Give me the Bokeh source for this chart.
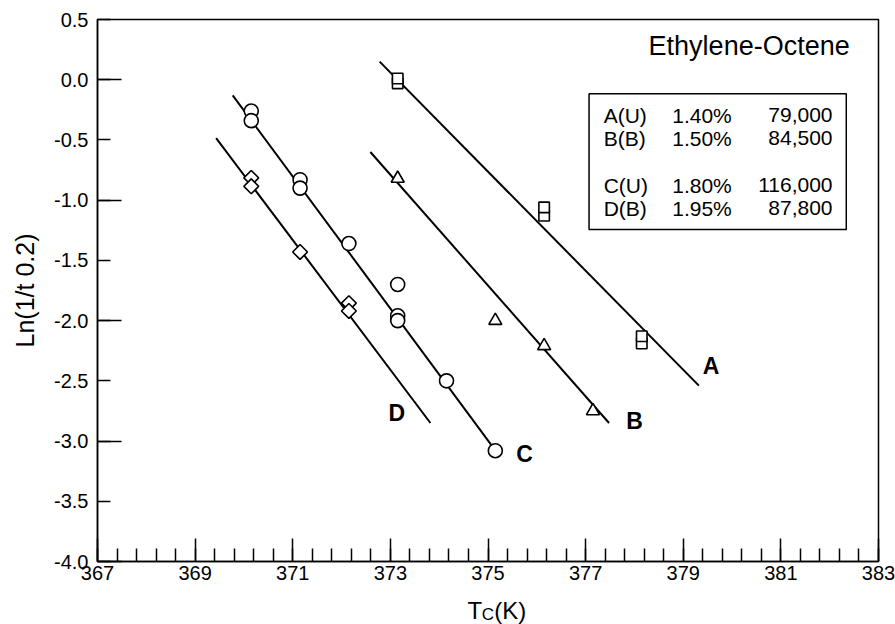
import numpy as np
from bokeh.plotting import figure
from bokeh.layouts import column
from bokeh.models import Range1d, FixedTicker, Label, BoxAnnotation, PrintfTickFormatter
from bokeh.core.properties import value
from bokeh.embed import file_html
from bokeh.resources import INLINE

FONT = "Liberation Sans"

# ---- data ----
# A(U) squares
A_x = [373.15, 373.15, 376.15, 376.15, 378.15, 378.15]
A_y = [-0.03, 0.01, -1.13, -1.06, -2.19, -2.13]
# B(B) triangles
B_x = [373.15, 375.15, 376.15, 377.15]
B_y = [-0.82, -2.00, -2.21, -2.75]
# C(U) circles
C_x = [370.15, 370.15, 371.15, 371.15, 372.15, 373.15, 373.15, 373.15, 374.15, 375.15]
C_y = [-0.26, -0.34, -0.83, -0.90, -1.36, -1.70, -1.96, -2.00, -2.50, -3.08]
# D(B) diamonds
D_x = [370.15, 370.15, 371.15, 372.15, 372.15]
D_y = [-0.815, -0.885, -1.43, -1.855, -1.92]

# fitted lines (end points)
fitA_x = [372.78, 379.32]
fitA_y = [0.15, -2.54]
fitB_x = [372.59, 377.48]
fitB_y = [-0.60, -2.85]
fitC_x = [369.77, 375.10]
fitC_y = [-0.13, -3.05]
fitD_x = [369.43, 373.82]
fitD_y = [-0.485, -2.85]

series_labels = ["A", "B", "C", "D"]
legend_names = ["A(U)", "B(B)", "C(U)", "D(B)"]
legend_pct = ["1.40%", "1.50%", "1.80%", "1.95%"]
legend_mw = ["79,000", "84,500", "116,000", "87,800"]
title_text = "Ethylene-Octene"
y_title = "Ln(1/t 0.2)"
x_title_parts = ["T", "C", "(K)"]

x_major_ticks = [367, 369, 371, 373, 375, 377, 379, 381, 383]
x_minor_ticks = [round(v, 1) for v in np.arange(367.0, 383.01, 0.4)]
y_label_ticks = [0.5, 0.0, -0.5, -1.0, -1.5, -2.0, -2.5, -3.0, -3.5, -4.0]
y_long_ticks = [0.0, -1.0, -2.0, -3.0, -4.0]

# ---- main figure ----
p = figure(width=895, height=596, x_range=Range1d(367, 383), y_range=Range1d(-4, 0.5),
           output_backend="svg", toolbar_location=None,
           min_border_left=97, min_border_right=17, min_border_top=19, min_border_bottom=35)
p.xgrid.visible = False
p.ygrid.visible = False
p.outline_line_color = "black"
p.outline_line_width = 1.5
p.background_fill_color = "white"
p.border_fill_color = "white"

xa = p.xaxis[0]
xa.ticker = FixedTicker(ticks=x_major_ticks, minor_ticks=x_minor_ticks)
xa.major_tick_in = 23
xa.major_tick_out = 0
xa.minor_tick_in = 13
xa.minor_tick_out = 0
xa.major_tick_line_width = 1.5
xa.minor_tick_line_width = 1.5
xa.axis_line_width = 1.5
xa.major_label_text_font = FONT
xa.major_label_text_font_size = "20px"
xa.major_label_text_color = "black"
xa.major_label_standoff = 4

ya = p.yaxis[0]
ya.ticker = FixedTicker(ticks=y_label_ticks, minor_ticks=y_long_ticks)
ya.formatter = PrintfTickFormatter(format="%.1f")
ya.major_tick_in = 13
ya.major_tick_out = 0
ya.minor_tick_in = 24
ya.minor_tick_out = 0
ya.major_tick_line_width = 1.5
ya.minor_tick_line_width = 1.5
ya.axis_line_width = 1.5
ya.major_label_text_font = FONT
ya.major_label_text_font_size = "20px"
ya.major_label_text_color = "black"
ya.major_label_standoff = 9
ya.axis_label = y_title
ya.axis_label_text_font = FONT
ya.axis_label_text_font_size = "25px"
ya.axis_label_text_font_style = "normal"
ya.axis_label_text_color = "black"
ya.axis_label_standoff = 12

# fitted lines
for fx, fy in [(fitA_x, fitA_y), (fitB_x, fitB_y), (fitC_x, fitC_y), (fitD_x, fitD_y)]:
    p.line(fx, fy, line_color="black", line_width=2)

mk = dict(fill_color="white", line_color="black", line_width=1.6)
p.scatter(A_x, A_y, marker="square", size=10.5, **mk)
p.scatter(B_x, B_y, marker="triangle", size=13, **mk)
p.scatter(C_x, C_y, marker="circle", size=14, **mk)
p.scatter(D_x, D_y, marker="square", angle=np.pi / 4, size=10.5, **mk)

# series labels
lab_pos = [(379.57, -2.373), (378.0, -2.833), (375.75, -3.108), (373.13, -2.771)]
for t, (lx, ly) in zip(series_labels, lab_pos):
    p.add_layout(Label(x=lx, y=ly, text=t, text_font=FONT, text_font_size="23px",
                       text_font_style="bold", text_align="center", text_baseline="middle",
                       text_color="black"))

# title
p.add_layout(Label(x=378.29, y=0.276, text=title_text, text_font=FONT, text_font_size="27px",
                   text_align="left", text_baseline="middle", text_color="black"))

# legend box
p.add_layout(BoxAnnotation(left=377.07, right=382.34, top=-0.117, bottom=-1.244,
                           fill_color="white", fill_alpha=1.0, line_color="black",
                           line_width=1.5, line_alpha=1.0))
row_y = [-0.297, -0.488, -0.878, -1.069]
for nm, pc, mw, ry in zip(legend_names, legend_pct, legend_mw, row_y):
    p.add_layout(Label(x=377.37, y=ry, text=nm, text_font=FONT, text_font_size="21px",
                       text_align="left", text_baseline="middle", text_color="black"))
    p.add_layout(Label(x=378.774, y=ry, text=pc, text_font=FONT, text_font_size="21px",
                       text_align="left", text_baseline="middle", text_color="black"))
    p.add_layout(Label(x=382.058, y=ry, text=mw, text_font=FONT, text_font_size="21px",
                       text_align="right", text_baseline="middle", text_color="black"))

# ---- strip below for the x-axis title (T with subscript C, then (K)) ----
q = figure(width=895, height=28, x_range=p.x_range, y_range=Range1d(0, 28),
           output_backend="svg", toolbar_location=None,
           x_axis_location=None, y_axis_location=None, min_border=0)
q.xgrid.visible = False
q.ygrid.visible = False
q.outline_line_color = None
q.background_fill_color = "white"
q.border_fill_color = "white"
q.text(x=[374.58], y=[14], text=[x_title_parts[0]], text_font=value(FONT), text_font_size="24px",
       text_align="left", text_baseline="alphabetic", text_color="black")
q.text(x=[374.87], y=[10.5], text=[x_title_parts[1]], text_font=value(FONT), text_font_size="17px",
       text_align="left", text_baseline="alphabetic", text_color="black")
q.text(x=[375.13], y=[14], text=[x_title_parts[2]], text_font=value(FONT), text_font_size="24px",
       text_align="left", text_baseline="alphabetic", text_color="black")

layout = column(p, q, spacing=0)
open("out.html", "w").write(file_html(layout, INLINE))
